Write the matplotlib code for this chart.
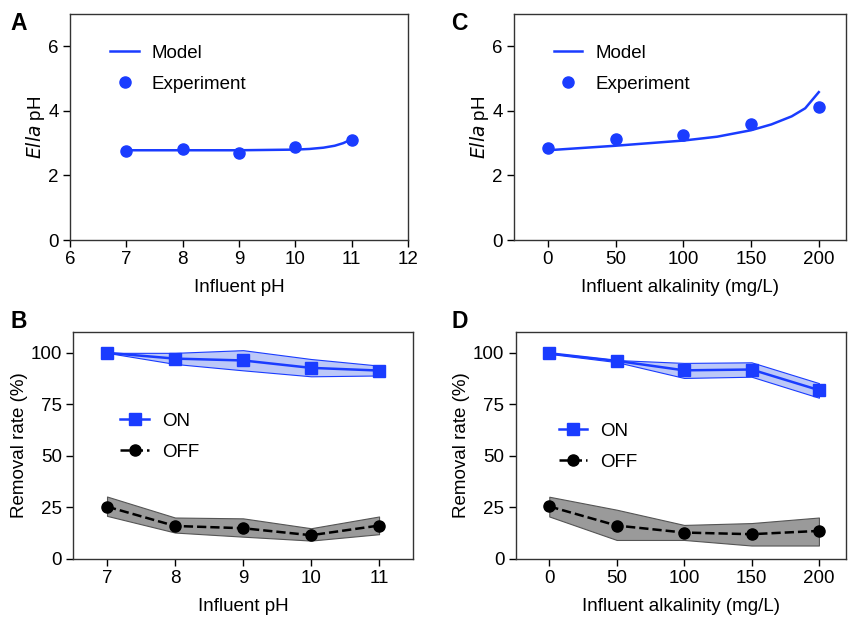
import matplotlib.pyplot as plt

plt.rcParams['font.family'] = ['Liberation Sans', 'DejaVu Sans']

# panel A: Ella pH vs influent pH
ph_exp_x = [7, 8, 9, 10, 11]
ph_exp_y = [2.75, 2.82, 2.68, 2.88, 3.1]
ph_model_x = [7, 7.5, 8, 8.5, 9, 9.5, 10, 10.25, 10.5, 10.7, 10.85, 11.0]
ph_model_y = [2.78, 2.78, 2.78, 2.78, 2.78, 2.79, 2.80, 2.82, 2.86, 2.92, 3.0, 3.12]

# panel C: Ella pH vs influent alkalinity
alk_exp_x = [0, 50, 100, 150, 200]
alk_exp_y = [2.84, 3.12, 3.24, 3.59, 4.13]
alk_model_x = [0, 25, 50, 75, 100, 125, 150, 165, 180, 190, 200]
alk_model_y = [2.78, 2.85, 2.92, 3.0, 3.08, 3.2, 3.4, 3.58, 3.83, 4.08, 4.58]

# panel B: removal rate vs influent pH
ph_x = [7, 8, 9, 10, 11]
ph_on = [100, 97.2, 96.3, 92.7, 91.4]
ph_on_hi = [100, 100, 101.3, 97, 93.8]
ph_on_lo = [100, 94.6, 91.5, 88.6, 89]
ph_off = [25.3, 15.9, 14.8, 11.4, 16.1]
ph_off_hi = [30.2, 20, 19.6, 14.8, 20.5]
ph_off_lo = [20.8, 12.7, 10.7, 8.8, 11.9]

# panel D: removal rate vs influent alkalinity
alk_x = [0, 50, 100, 150, 200]
alk_on = [99.8, 96.1, 91.5, 91.9, 81.9]
alk_on_hi = [100, 96.5, 95.1, 95.4, 85.3]
alk_on_lo = [99.5, 95.5, 87.8, 88.4, 78.2]
alk_off = [25.4, 16.1, 12.7, 11.9, 13.5]
alk_off_hi = [30.1, 23.8, 16.4, 17.3, 20]
alk_off_lo = [20.5, 9.1, 9.1, 6.4, 6.4]

blue = '#1a3cff'
light_blue = '#bcc8f8'
gray = '#9a9a9a'
fs = 13.5

fig = plt.figure(figsize=(8.48, 6.17), dpi=100)
axA = fig.add_axes([0.0825, 0.611, 0.3986, 0.3663])
axC = fig.add_axes([0.606, 0.611, 0.3915, 0.3663])
axB = fig.add_axes([0.0861, 0.0945, 0.401, 0.367])
axD = fig.add_axes([0.608, 0.0945, 0.3895, 0.367])


def style(ax):
    for s in ax.spines.values():
        s.set_linewidth(1.0)
        s.set_color('#333333')
    ax.tick_params(direction='out', length=5, width=1, labelsize=fs,
                   top=False, right=False, pad=3)


def ph_panel(ax, mx, my, ex, ey, leg_pos):
    ax.plot(mx, my, color=blue, lw=1.8, label='Model')
    ax.plot(ex, ey, 'o', color=blue, ms=8, label='Experiment')
    ax.set_ylim(0, 7)
    ax.set_yticks([0, 2, 4, 6])
    ax.set_ylabel(r'$\it{Ella}$ pH', fontsize=fs, labelpad=1)
    ax.legend(loc='upper left', frameon=False, fontsize=fs,
              bbox_to_anchor=leg_pos, handlelength=1.5, handletextpad=0.7,
              labelspacing=0.75)
    style(ax)


def removal_panel(ax, x, on, on_hi, on_lo, off, off_hi, off_lo, leg_pos):
    ax.fill_between(x, on_lo, on_hi, facecolor=light_blue,
                    edgecolor=blue, lw=0.8)
    ax.fill_between(x, off_lo, off_hi, facecolor=gray,
                    edgecolor='#555555', lw=0.8)
    ax.plot(x, on, '-s', color=blue, lw=1.8, ms=8, label='ON')
    ax.plot(x, off, '--o', color='black', lw=1.8, ms=8, label='OFF')
    ax.set_ylim(0, 110)
    ax.set_yticks([0, 25, 50, 75, 100])
    ax.set_ylabel('Removal rate (%)', fontsize=fs, labelpad=2)
    ax.legend(loc='upper left', frameon=False, fontsize=fs,
              bbox_to_anchor=leg_pos, handlelength=1.5, handletextpad=0.7,
              labelspacing=0.75)
    style(ax)


ph_panel(axA, ph_model_x, ph_model_y, ph_exp_x, ph_exp_y, (0.07, 0.94))
axA.set_xlim(6, 12)
axA.set_xticks([6, 7, 8, 9, 10, 11, 12])
axA.set_xlabel('Influent pH', fontsize=fs, labelpad=8)

ph_panel(axC, alk_model_x, alk_model_y, alk_exp_x, alk_exp_y, (0.07, 0.94))
axC.set_xlim(-25, 220)
axC.set_xticks([0, 50, 100, 150, 200])
axC.set_xlabel('Influent alkalinity (mg/L)', fontsize=fs, labelpad=8)

removal_panel(axB, ph_x, ph_on, ph_on_hi, ph_on_lo,
              ph_off, ph_off_hi, ph_off_lo, (0.09, 0.72))
axB.set_xlim(6.5, 11.5)
axB.set_xticks(ph_x)
axB.set_xlabel('Influent pH', fontsize=fs, labelpad=8)

removal_panel(axD, alk_x, alk_on, alk_on_hi, alk_on_lo,
              alk_off, alk_off_hi, alk_off_lo, (0.08, 0.675))
axD.set_xlim(-25, 220)
axD.set_xticks(alk_x)
axD.set_xlabel('Influent alkalinity (mg/L)', fontsize=fs, labelpad=8)

for label, x, y in [('A', 0.012, 0.952), ('C', 0.532, 0.952),
                    ('B', 0.012, 0.468), ('D', 0.532, 0.468)]:
    fig.text(x, y, label, fontsize=16.5, fontweight='bold')

fig.savefig('out.png', dpi=100)
